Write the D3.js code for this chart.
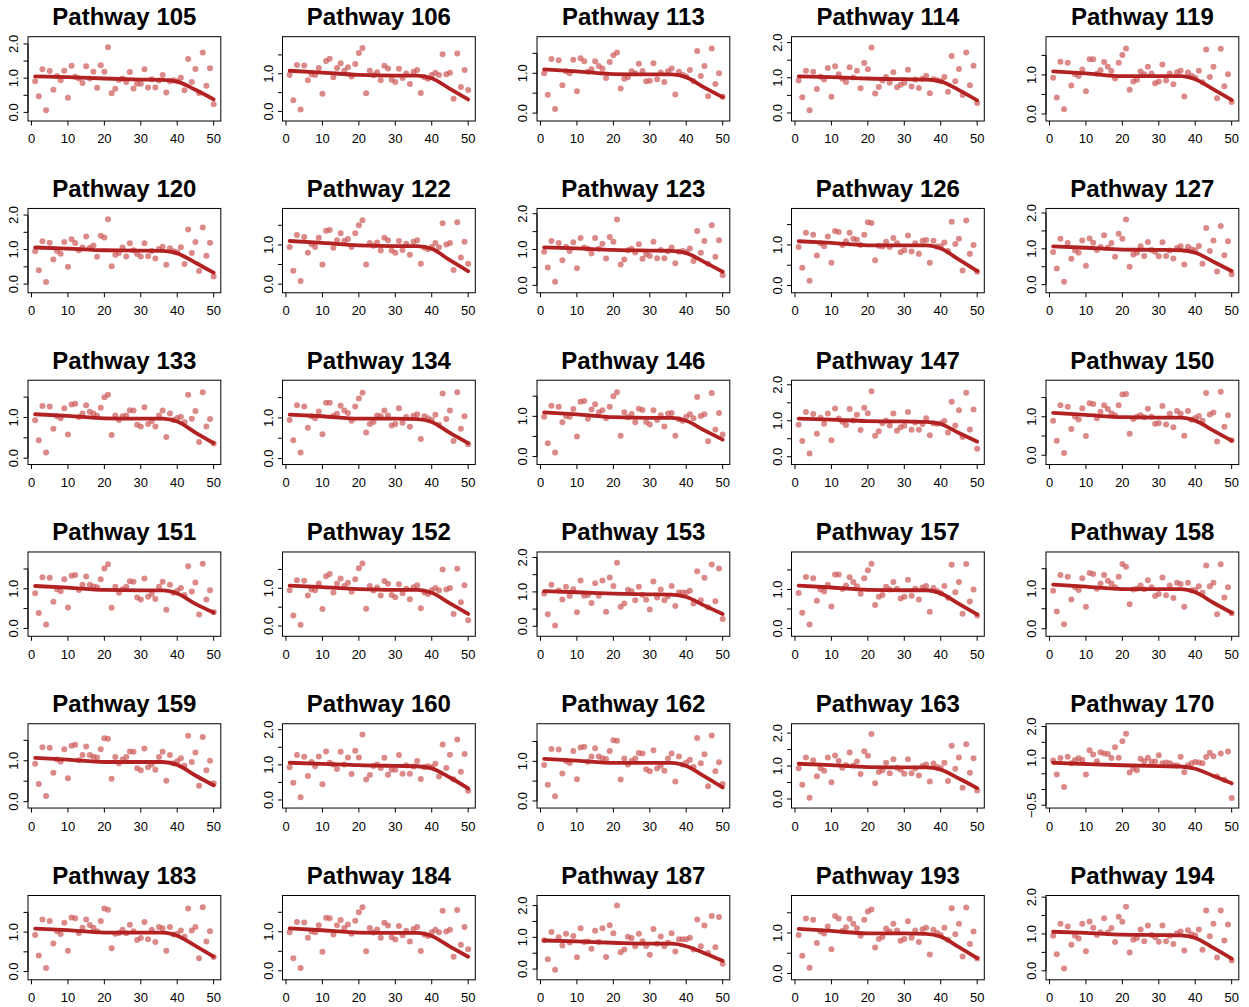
<!DOCTYPE html>
<html>
<head>
<meta charset="utf-8">
<script src="https://cdn.jsdelivr.net/npm/d3@7"></script>
<style>
  body { margin: 0; background: #fff; }
  svg { display: block; }
  text { font-family: "Liberation Sans", Arial, Helvetica, sans-serif; }
</style>
</head>
<body>
<svg id="chart" width="1249" height="1007"></svg>
<script>
// Pathway identifiers, in panel order (5 columns x 6 rows)
const pathwayIds = [105, 106, 113, 114, 119,
                    120, 122, 123, 126, 127,
                    133, 134, 146, 147, 150,
                    151, 152, 153, 157, 158,
                    159, 160, 162, 163, 170,
                    183, 184, 187, 193, 194];

// Observation index (x) for the 50 samples of every pathway
const sampleIndex = d3.range(1, 51);
// Positions at which the smoothed trend is evaluated
const trendIndex = [1, 10, 20, 30, 36, 40, 45, 50];
// Tick values on the x axis
const xTickValues = [0, 10, 20, 30, 40, 50];

// Observed scores per pathway
const pw105 = [0.91,0.47,1.26,0.06,1.21,0.66,1.06,0.94,1.22,0.43,1.36,1.04,0.99,0.86,1.35,0.99,1.19,0.72,1.38,1.19,1.90,0.56,0.69,0.95,0.99,0.89,1.18,0.70,0.84,0.84,1.26,0.73,0.97,0.73,0.93,1.09,0.58,0.91,0.94,0.91,1.01,0.65,1.56,0.89,1.27,0.57,1.75,0.78,1.29,0.24];
const pw106 = [0.97,0.30,1.23,0.05,1.22,0.83,0.99,0.97,1.15,0.47,1.34,1.40,0.91,1.15,1.28,1.08,1.17,0.93,1.26,1.55,1.68,0.48,1.08,0.96,1.04,0.83,1.21,1.14,0.84,0.78,1.13,0.89,1.01,0.73,1.05,1.10,0.49,0.91,0.87,0.97,1.03,0.97,1.52,0.99,1.03,0.34,1.54,0.65,1.10,0.57];
const pw113 = [1.00,0.46,1.36,0.10,1.33,0.70,1.05,1.00,1.34,0.55,1.38,1.30,1.04,1.10,1.30,1.18,1.12,0.88,1.28,1.45,1.52,0.62,0.86,0.90,1.05,1.00,1.24,1.06,0.80,0.81,1.25,0.85,1.02,0.78,1.05,1.12,0.47,1.04,0.96,0.92,1.08,0.80,1.56,0.93,1.18,0.42,1.62,0.73,1.00,0.41];
const pw114 = [0.92,0.45,1.20,0.08,1.17,0.68,1.03,0.95,1.28,0.46,1.33,1.10,0.97,0.88,1.30,1.01,1.20,0.70,1.42,1.24,1.86,0.55,0.74,0.92,1.02,0.86,1.16,0.73,0.80,0.86,1.23,0.75,0.95,0.71,0.97,1.06,0.56,0.96,0.93,0.90,1.02,0.60,1.62,0.90,1.25,0.51,1.72,0.79,1.34,0.28];
const pw119 = [0.93,0.42,1.34,0.12,1.31,0.73,1.02,0.97,1.14,0.58,1.40,1.40,1.03,1.12,1.33,1.21,1.10,0.91,1.31,1.51,1.68,0.62,0.83,0.88,1.09,1.02,1.21,1.04,0.79,0.83,1.27,0.86,1.04,0.76,1.07,1.11,0.45,1.06,0.98,0.93,1.11,0.81,1.65,0.95,1.21,0.40,1.67,0.71,1.02,0.31];
const pw120 = [0.95,0.40,1.24,0.06,1.20,0.71,0.96,0.88,1.22,0.50,1.30,1.19,0.98,1.06,1.38,1.05,1.12,0.79,1.40,1.35,1.88,0.52,0.85,0.90,1.06,0.80,1.18,0.98,0.87,0.80,1.18,0.81,0.96,0.74,1.02,1.08,0.56,1.04,0.95,0.92,1.07,0.58,1.58,0.90,1.22,0.38,1.64,0.82,1.20,0.22];
const pw122 = [0.95,0.34,1.25,0.08,1.20,0.80,1.02,0.95,1.18,0.50,1.36,1.38,0.93,1.12,1.30,1.10,1.15,0.95,1.30,1.50,1.63,0.50,1.05,0.98,1.06,0.86,1.18,1.12,0.86,0.80,1.10,0.87,1.03,0.75,1.08,1.12,0.52,0.93,0.89,0.95,1.05,0.94,1.55,1.01,1.05,0.36,1.58,0.68,1.08,0.52];
const pw123 = [0.94,0.50,1.24,0.10,1.18,0.70,1.08,0.96,1.20,0.48,1.32,1.06,1.02,0.89,1.32,1.02,1.16,0.75,1.35,1.22,1.84,0.58,0.72,0.98,1.02,0.92,1.15,0.74,0.87,0.82,1.22,0.76,0.99,0.76,0.95,1.06,0.62,0.94,0.96,0.93,1.03,0.68,1.52,0.91,1.24,0.60,1.68,0.80,1.26,0.28];
const pw126 = [0.95,0.44,1.30,0.12,1.25,0.74,1.04,0.97,1.21,0.56,1.34,1.32,1.00,1.09,1.30,1.15,1.13,1.00,1.25,1.56,1.54,0.62,0.98,0.96,1.08,0.95,1.17,1.04,0.82,0.87,1.23,0.84,1.04,0.78,1.10,1.12,0.56,1.10,0.96,0.97,1.06,0.85,1.57,1.02,1.15,0.37,1.60,0.78,1.00,0.34];
const pw127 = [0.91,0.45,1.28,0.08,1.16,0.72,0.95,0.89,1.23,0.53,1.29,1.17,0.97,1.05,1.38,1.04,1.16,0.78,1.42,1.28,1.82,0.50,0.84,0.89,1.07,0.80,1.19,0.97,0.91,0.79,1.18,0.80,0.95,0.73,1.02,1.07,0.56,1.06,0.99,0.96,1.08,0.58,1.58,0.94,1.23,0.37,1.64,0.82,1.21,0.29];
const pw133 = [0.93,0.44,1.28,0.14,1.27,0.72,1.03,0.98,1.23,0.58,1.32,1.34,1.01,1.10,1.30,1.14,1.10,1.04,1.24,1.50,1.56,0.57,1.05,0.94,1.03,1.05,1.18,1.17,0.82,0.78,1.25,0.84,0.91,0.78,1.05,1.17,0.52,1.10,0.94,0.99,1.02,0.88,1.56,0.97,1.16,0.40,1.62,0.78,0.96,0.36];
const pw134 = [0.95,0.45,1.31,0.15,1.28,0.76,1.04,0.99,1.16,0.60,1.37,1.37,1.05,1.10,1.30,1.18,1.12,0.93,1.28,1.48,1.62,0.64,0.85,0.90,1.06,1.04,1.18,1.06,0.81,0.85,1.24,0.88,1.02,0.78,1.05,1.09,0.48,1.04,0.99,0.95,1.08,0.83,1.60,0.97,1.18,0.43,1.63,0.73,1.04,0.35];
const pw146 = [0.99,0.33,1.26,0.10,1.24,0.85,1.01,0.99,1.18,0.50,1.36,1.38,0.94,1.17,1.30,1.10,1.15,0.95,1.24,1.50,1.60,0.52,1.10,0.98,1.06,0.85,1.19,1.16,0.86,0.80,1.15,0.91,1.03,0.75,1.07,1.08,0.52,0.93,0.89,0.99,1.05,0.95,1.48,1.01,1.05,0.38,1.58,0.67,1.08,0.55];
const pw147 = [0.89,0.44,1.24,0.09,1.19,0.64,1.08,0.92,1.20,0.46,1.34,1.06,0.97,0.88,1.33,1.01,1.17,0.74,1.36,1.21,1.82,0.58,0.71,0.93,1.01,0.87,1.20,0.72,0.82,0.86,1.24,0.75,0.95,0.75,0.91,1.07,0.60,0.93,0.92,0.93,0.99,0.67,1.53,0.87,1.29,0.55,1.78,0.76,1.31,0.22];
const pw150 = [0.90,0.38,1.30,0.06,1.26,0.68,1.00,0.93,1.22,0.50,1.35,1.33,0.96,1.13,1.30,1.20,1.09,1.04,1.30,1.58,1.59,0.56,0.94,1.00,1.04,0.99,1.21,1.00,0.82,0.83,1.28,0.80,1.08,0.73,1.15,1.08,0.51,1.15,0.92,0.97,1.02,0.90,1.62,1.06,1.11,0.36,1.65,0.74,1.04,0.39];
const pw151 = [0.89,0.39,1.29,0.10,1.28,0.67,0.99,0.94,1.24,0.53,1.33,1.35,0.97,1.10,1.31,1.10,1.06,1.04,1.24,1.51,1.62,0.52,1.05,0.90,0.99,1.05,1.19,1.18,0.78,0.73,1.26,0.80,0.87,0.74,1.05,1.18,0.47,1.10,0.90,0.95,1.02,0.84,1.57,0.93,1.16,0.35,1.63,0.73,0.96,0.41];
const pw152 = [0.95,0.28,1.21,0.03,1.20,0.81,0.97,0.95,1.13,0.45,1.32,1.38,0.89,1.13,1.26,1.06,1.15,0.91,1.24,1.53,1.66,0.46,1.06,0.94,1.02,0.81,1.19,1.12,0.82,0.76,1.11,0.87,0.99,0.71,1.03,1.08,0.47,0.89,0.85,0.95,1.01,0.95,1.50,0.97,1.01,0.32,1.52,0.63,1.08,0.15];
const pw153 = [0.95,0.35,1.21,0.02,1.04,0.78,1.15,0.88,1.08,0.41,1.33,0.89,0.91,0.68,1.25,0.89,1.33,0.42,1.42,1.17,1.85,0.57,0.66,1.06,1.02,0.76,1.15,0.92,0.77,0.49,1.30,0.84,1.07,0.76,0.87,1.17,0.59,0.98,0.98,0.98,1.03,0.66,1.60,0.76,1.41,0.55,1.80,0.73,1.68,0.21];
const pw157 = [0.91,0.40,1.32,0.10,1.29,0.71,1.00,0.95,1.12,0.56,1.38,1.38,1.01,1.10,1.31,1.19,1.08,0.89,1.29,1.49,1.66,0.60,0.81,0.86,1.07,1.00,1.19,1.02,0.77,0.81,1.25,0.84,1.02,0.74,1.05,1.09,0.43,1.04,0.96,0.91,1.09,0.79,1.63,0.93,1.19,0.38,1.65,0.69,1.00,0.33];
const pw158 = [0.95,0.43,1.34,0.11,1.30,0.73,1.04,0.97,1.26,0.55,1.39,1.37,1.00,1.13,1.34,1.20,1.13,1.04,1.30,1.62,1.55,0.61,0.98,1.00,1.08,0.99,1.21,1.04,0.82,0.87,1.28,0.84,1.08,0.77,1.15,1.12,0.55,1.15,0.96,0.97,1.06,0.90,1.58,1.06,1.15,0.36,1.61,0.78,1.04,0.39];
const pw159 = [0.93,0.43,1.33,0.14,1.32,0.71,1.03,0.98,1.28,0.57,1.37,1.39,1.01,1.14,1.35,1.14,1.10,1.08,1.28,1.55,1.54,0.56,1.09,0.94,1.03,1.09,1.23,1.22,0.82,0.77,1.30,0.84,0.91,0.78,1.09,1.22,0.51,1.14,0.94,0.99,1.06,0.88,1.61,0.97,1.20,0.39,1.58,0.77,1.00,0.45];
const pw160 = [0.93,0.49,1.28,0.08,1.23,0.68,1.08,0.96,1.24,0.45,1.38,1.06,1.01,0.88,1.37,1.01,1.21,0.74,1.40,1.21,1.86,0.58,0.71,0.97,1.01,0.91,1.20,0.72,0.86,0.86,1.28,0.75,0.99,0.75,0.95,1.11,0.60,0.93,0.96,0.93,1.03,0.67,1.58,0.91,1.29,0.59,1.72,0.80,1.31,0.26];
const pw162 = [0.91,0.41,1.31,0.12,1.30,0.69,1.01,0.96,1.26,0.55,1.35,1.37,0.99,1.12,1.33,1.12,1.08,1.06,1.26,1.53,1.52,0.54,1.07,0.92,1.01,1.07,1.21,1.20,0.80,0.75,1.28,0.82,0.89,0.76,1.07,1.20,0.49,1.12,0.92,0.97,1.04,0.86,1.59,0.95,1.18,0.37,1.65,0.75,0.98,0.43];
const pw163 = [0.93,0.43,1.26,0.04,1.18,0.69,0.93,0.86,1.26,0.51,1.32,1.15,0.95,1.03,1.41,1.02,1.14,0.76,1.45,1.31,1.97,0.48,0.82,0.87,1.10,0.78,1.21,0.95,0.89,0.77,1.21,0.78,0.93,0.71,1.00,1.05,0.53,1.08,0.97,0.94,1.10,0.55,1.62,0.92,1.26,0.34,1.66,0.80,1.24,0.26];
const pw170 = [0.92,0.48,1.00,0.08,1.04,0.83,0.94,0.99,0.94,0.48,1.25,1.11,0.90,1.18,1.14,1.13,1.00,1.34,1.01,1.53,1.77,0.54,0.67,0.61,0.98,0.90,1.01,0.88,0.89,1.09,0.83,0.86,0.83,0.77,0.76,1.04,0.55,0.77,0.83,0.87,0.86,0.83,1.03,1.17,1.06,0.41,1.14,0.31,1.21,-0.27];
const pw183 = [0.93,0.41,1.32,0.09,1.28,0.71,1.02,0.95,1.24,0.53,1.37,1.35,0.98,1.11,1.32,1.18,1.11,1.02,1.28,1.60,1.57,0.59,0.96,0.98,1.06,0.97,1.19,1.02,0.80,0.85,1.26,0.82,1.06,0.75,1.13,1.10,0.53,1.13,0.94,0.95,1.04,0.88,1.60,1.04,1.13,0.34,1.63,0.76,1.02,0.37];
const pw184 = [0.99,0.32,1.25,0.07,1.24,0.85,1.01,0.99,1.17,0.49,1.36,1.35,0.93,1.17,1.30,1.10,1.19,0.95,1.28,1.50,1.63,0.50,1.10,0.98,1.06,0.85,1.23,1.16,0.86,0.80,1.15,0.91,1.03,0.75,1.07,1.12,0.51,0.93,0.89,0.99,1.05,0.99,1.54,1.01,1.05,0.36,1.56,0.67,1.12,0.55];
const pw187 = [0.91,0.31,1.17,-0.02,1.00,0.74,1.11,0.84,1.04,0.37,1.29,0.85,0.87,0.64,1.21,0.85,1.29,0.38,1.38,1.13,2.00,0.53,0.62,1.02,0.98,0.72,1.11,0.88,0.73,0.45,1.26,0.80,1.03,0.72,0.83,1.13,0.55,0.94,0.94,0.94,0.99,0.62,1.56,0.72,1.37,0.51,1.67,0.69,1.64,0.17];
const pw193 = [0.95,0.44,1.36,0.14,1.33,0.75,1.04,0.99,1.16,0.60,1.42,1.36,1.05,1.14,1.35,1.23,1.12,0.93,1.33,1.53,1.58,0.64,0.85,0.90,1.11,1.04,1.23,1.06,0.81,0.85,1.29,0.88,1.06,0.78,1.09,1.13,0.47,1.08,1.00,0.95,1.13,0.83,1.61,0.97,1.23,0.42,1.63,0.73,1.04,0.37];
const pw194 = [0.95,0.45,1.28,0.06,1.20,0.71,0.95,0.88,1.28,0.53,1.34,1.17,0.97,1.05,1.43,1.04,1.16,0.78,1.47,1.33,1.74,0.50,0.84,0.89,1.12,0.80,1.23,0.97,0.91,0.79,1.23,0.80,0.95,0.73,1.02,1.07,0.55,1.10,0.99,0.96,1.12,0.57,1.64,0.94,1.28,0.36,1.64,0.82,1.26,0.28];

// Smoothed trend per pathway, evaluated at trendIndex
const tr105 = [1.05,1.03,0.99,0.96,0.95,0.90,0.66,0.38];
const tr106 = [1.08,1.03,0.97,0.95,0.95,0.88,0.60,0.32];
const tr113 = [1.10,1.05,0.98,0.97,0.97,0.90,0.64,0.40];
const tr114 = [1.04,1.02,0.98,0.96,0.95,0.90,0.65,0.36];
const tr119 = [1.09,1.04,0.97,0.97,0.97,0.89,0.63,0.36];
const tr120 = [1.06,1.03,0.98,0.97,0.96,0.89,0.62,0.33];
const tr122 = [1.10,1.05,0.99,0.97,0.97,0.90,0.61,0.33];
const tr123 = [1.06,1.03,0.99,0.97,0.96,0.90,0.65,0.38];
const tr126 = [1.09,1.05,0.99,0.99,0.99,0.91,0.64,0.36];
const tr127 = [1.07,1.03,0.98,0.97,0.96,0.89,0.64,0.38];
const tr133 = [1.08,1.04,0.98,0.97,0.97,0.90,0.63,0.37];
const tr134 = [1.08,1.04,0.98,0.98,0.97,0.90,0.63,0.38];
const tr146 = [1.10,1.05,0.98,0.96,0.96,0.89,0.65,0.42];
const tr147 = [1.06,1.03,0.99,0.98,0.97,0.91,0.66,0.42];
const tr150 = [1.10,1.05,0.99,0.98,0.98,0.90,0.64,0.38];
const tr151 = [1.07,1.03,0.97,0.96,0.96,0.88,0.62,0.40];
const tr152 = [1.07,1.03,0.98,0.96,0.96,0.88,0.60,0.32];
const tr153 = [1.02,0.99,0.95,0.93,0.92,0.85,0.60,0.36];
const tr157 = [1.10,1.05,0.99,0.98,0.98,0.90,0.63,0.36];
const tr158 = [1.10,1.05,0.99,0.99,0.99,0.91,0.65,0.40];
const tr159 = [1.07,1.03,0.97,0.97,0.97,0.90,0.64,0.40];
const tr160 = [1.06,1.03,0.99,0.97,0.96,0.90,0.64,0.33];
const tr162 = [1.06,1.02,0.96,0.96,0.96,0.88,0.62,0.34];
const tr163 = [1.07,1.03,0.97,0.96,0.96,0.89,0.62,0.33];
const tr170 = [0.85,0.81,0.77,0.74,0.73,0.66,0.43,0.20];
const tr183 = [1.09,1.05,0.99,0.99,0.99,0.91,0.65,0.38];
const tr184 = [1.09,1.04,0.98,0.97,0.97,0.89,0.62,0.36];
const tr187 = [0.90,0.87,0.83,0.80,0.80,0.72,0.50,0.26];
const tr193 = [1.10,1.05,0.99,0.99,0.98,0.91,0.65,0.38];
const tr194 = [1.06,1.03,0.98,0.97,0.96,0.89,0.62,0.33];

const pointsById = {
  105: pw105, 106: pw106, 113: pw113, 114: pw114, 119: pw119,
  120: pw120, 122: pw122, 123: pw123, 126: pw126, 127: pw127,
  133: pw133, 134: pw134, 146: pw146, 147: pw147, 150: pw150,
  151: pw151, 152: pw152, 153: pw153, 157: pw157, 158: pw158,
  159: pw159, 160: pw160, 162: pw162, 163: pw163, 170: pw170,
  183: pw183, 184: pw184, 187: pw187, 193: pw193, 194: pw194
};
const trendById = {
  105: tr105, 106: tr106, 113: tr113, 114: tr114, 119: tr119,
  120: tr120, 122: tr122, 123: tr123, 126: tr126, 127: tr127,
  133: tr133, 134: tr134, 146: tr146, 147: tr147, 150: tr150,
  151: tr151, 152: tr152, 153: tr153, 157: tr157, 158: tr158,
  159: tr159, 160: tr160, 162: tr162, 163: tr163, 170: tr170,
  183: tr183, 184: tr184, 187: tr187, 193: tr193, 194: tr194
};

// ---- layout ----
const NCOL = 5;
const boxLeft0 = 28, colStep = 254.5, boxW = 192.8;
const boxTop0 = 36.7, rowStep = 171.76, boxH = 84.3;
const tickLen = 4.5;
const labelSize = 13;
const titleSize = 24;
const pointColor = "#cd5c5c";
const trendColor = "#b22222";

const svg = d3.select("#chart");
svg.append("rect").attr("width", 1249).attr("height", 1007).attr("fill", "#fff");

const fmt = d3.format(".1f");

pathwayIds.forEach((id, i) => {
  const col = i % NCOL, row = Math.floor(i / NCOL);
  const g = svg.append("g")
    .attr("transform", `translate(${boxLeft0 + col * colStep},${boxTop0 + row * rowStep})`);

  const ys = pointsById[id];
  const tr = trendById[id];

  // x: 1..50 with the usual 4% padding on each side
  const xPad = 0.04 * (50 - 1);
  const x = d3.scaleLinear().domain([1 - xPad, 50 + xPad]).range([0, boxW]);

  // y: data range widened by a margin, then padded by 4%
  const lo0 = Math.min(d3.min(ys), d3.min(tr)) - 0.22;
  const hi0 = Math.max(d3.max(ys), d3.max(tr)) + 0.22;
  const ext = 0.04 * (hi0 - lo0);
  const y = d3.scaleLinear().domain([lo0 - ext, hi0 + ext]).range([boxH, 0]);

  // points
  g.append("g").selectAll("circle")
    .data(ys)
    .join("circle")
    .attr("cx", (d, k) => x(sampleIndex[k]))
    .attr("cy", d => y(d))
    .attr("r", 3)
    .attr("fill", pointColor)
    .attr("fill-opacity", 0.72);

  // trend line
  const line = d3.line()
    .x((d, k) => x(trendIndex[k]))
    .y(d => y(d))
    .curve(d3.curveMonotoneX);
  g.append("path")
    .attr("d", line(tr))
    .attr("fill", "none")
    .attr("stroke", trendColor)
    .attr("stroke-width", 3.8)
    .attr("stroke-linecap", "round")
    .attr("stroke-linejoin", "round");

  // frame
  g.append("rect")
    .attr("x", 0).attr("y", 0)
    .attr("width", boxW).attr("height", boxH)
    .attr("fill", "none")
    .attr("stroke", "#000")
    .attr("stroke-width", 1);

  // x axis
  const xa = g.append("g");
  xa.selectAll("line")
    .data(xTickValues)
    .join("line")
    .attr("x1", d => x(d)).attr("x2", d => x(d))
    .attr("y1", boxH).attr("y2", boxH + tickLen)
    .attr("stroke", "#000");
  xa.selectAll("text")
    .data(xTickValues)
    .join("text")
    .attr("x", d => x(d))
    .attr("y", boxH + 22.5)
    .attr("text-anchor", "middle")
    .attr("font-size", labelSize)
    .attr("fill", "#000")
    .text(d => d);

  // y axis: ticks every 0.5, labels skipped when they would collide
  const yTicks = y.ticks(5);
  const ya = g.append("g");
  ya.append("line")
    .attr("x1", 0).attr("x2", 0)
    .attr("y1", y(yTicks[0])).attr("y2", y(yTicks[yTicks.length - 1]))
    .attr("stroke", "#000");
  ya.selectAll("line.tk")
    .data(yTicks)
    .join("line")
    .attr("class", "tk")
    .attr("x1", 0).attr("x2", -tickLen)
    .attr("y1", d => y(d)).attr("y2", d => y(d))
    .attr("stroke", "#000");

  const probe = ya.append("text").attr("font-size", labelSize).text("m");
  const gap = probe.node().getComputedTextLength();
  probe.remove();

  let lastPos = null, lastHalf = 0;
  yTicks.forEach(t => {
    const lbl = ya.append("text")
      .attr("transform", `translate(-9.7,${y(t)}) rotate(-90)`)
      .attr("text-anchor", "middle")
      .attr("font-size", labelSize)
      .attr("fill", "#000")
      .text(fmt(t));
    const half = lbl.node().getComputedTextLength() / 2;
    const pos = y(t);
    if (lastPos !== null && Math.abs(lastPos - pos) < lastHalf + half + gap) {
      lbl.remove();
    } else {
      lastPos = pos; lastHalf = half;
    }
  });

  // title
  g.append("text")
    .attr("x", boxW / 2)
    .attr("y", -11.7)
    .attr("text-anchor", "middle")
    .attr("font-size", titleSize)
    .attr("font-weight", "bold")
    .attr("fill", "#000")
    .text(`Pathway ${id}`);
});
</script>
</body>
</html>
